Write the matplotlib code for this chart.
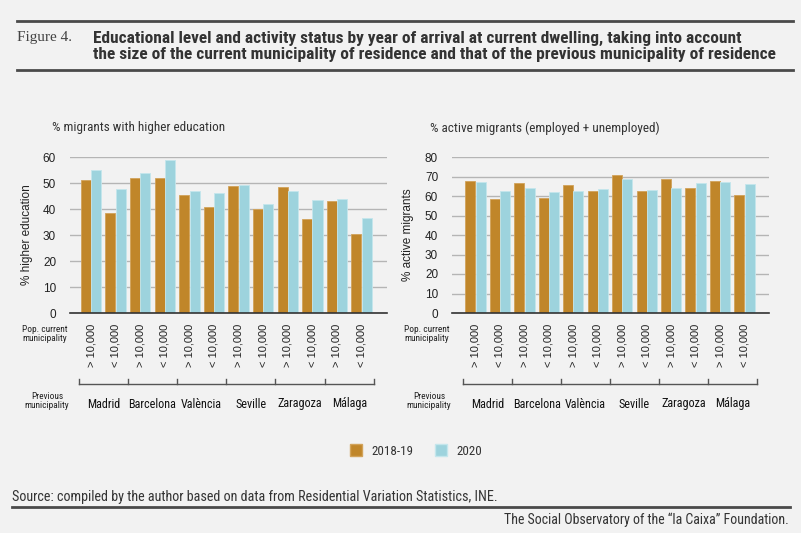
import matplotlib
matplotlib.use("Agg")
import matplotlib.pyplot as plt
from matplotlib import font_manager as fm
from matplotlib.lines import Line2D
from matplotlib.patches import Patch

# data
cities = ["Madrid", "Barcelona", "València", "Seville", "Zaragoza", "Málaga"]
pop_labels = ["> 10,000", "< 10,000"] * 6
edu_2018 = [51.3, 38.5, 51.9, 52.0, 45.5, 40.7, 48.8, 40.1, 48.3, 36.2, 43.2, 30.5]
edu_2020 = [55.0, 47.7, 53.8, 58.8, 46.8, 46.3, 49.3, 41.9, 47.0, 43.3, 43.8, 36.4]
act_2018 = [67.7, 58.4, 66.6, 59.1, 65.4, 62.5, 70.9, 62.4, 68.5, 64.1, 67.7, 60.6]
act_2020 = [67.0, 62.4, 63.9, 62.2, 62.5, 63.4, 68.9, 62.9, 64.2, 66.5, 67.3, 66.3]

C18 = "#c0862a"
C20 = "#9dd3dd"
BG = "#f2f2f2"
DARK = "#333333"

installed = {f.name for f in fm.fontManager.ttflist}


def pick(cands, fallback="DejaVu Sans"):
    for c in cands:
        if c in installed:
            return [c, fallback]
    return [fallback]


NARROW = pick(["Roboto Condensed", "Liberation Sans Narrow", "Archivo Narrow", "PT Sans Narrow",
               "Barlow Semi Condensed", "Arial Narrow", "Open Sans Condensed"])
SANS = pick(["Liberation Sans", "Arimo"])
SERIF = pick(["Liberation Serif", "Tinos"], "DejaVu Serif")

W, H = 801, 533
fig = plt.figure(figsize=(W / 100, H / 100), dpi=100, facecolor=BG)
renderer = fig.canvas.get_renderer()


def fx(x):
    return x / W


def fy(y):
    return 1 - y / H


def fit(t, target_px, vertical=False):
    # scale the font so the text spans the width measured on the reference
    bb = t.get_window_extent(renderer)
    size = bb.height if vertical else bb.width
    t.set_fontsize(t.get_fontsize() * target_px / size)
    return t


def hline(x0, x1, y, lw=2.0, color="#4a4a4a"):
    fig.add_artist(Line2D([fx(x0), fx(x1)], [fy(y), fy(y)], color=color, lw=lw))


# header
hline(17, 793, 21)
hline(17, 793, 70)
fig.text(fx(17), fy(38), "Figure 4.", family=SERIF, fontsize=11, color="#444444", va="center")
t1 = fig.text(fx(93), fy(38), "Educational level and activity status by year of arrival at current dwelling, taking into account",
              family=NARROW, fontsize=10.5, weight="bold", color=DARK, va="center")
t2 = fig.text(fx(93), fy(54), "the size of the current municipality of residence and that of the previous municipality of residence",
              family=NARROW, fontsize=10.5, weight="bold", color=DARK, va="center")
fit(t2, 684)
t1.set_fontsize(t2.get_fontsize())

city_size = None


def panel(left_px, xmin, xmax, v18, v20, ymax, subtitle, sub_w, ylabel, ylab_h, sub_x, ylab_x, pop_x, prev_x):
    global city_size
    ax = fig.add_axes([fx(left_px), fy(313), 317 / W, 156 / H])
    ax.set_facecolor(BG)
    x = list(range(len(v18)))
    w = 0.41
    ax.bar([i - 0.21 for i in x], v18, width=w, color=C18, edgecolor="#d2a35a", lw=0.6, zorder=3)
    ax.bar([i + 0.21 for i in x], v20, width=w, color=C20, edgecolor="#c4e6ec", lw=0.6, zorder=3)
    ax.set_xlim(xmin, xmax)
    ax.set_ylim(0, ymax)
    ax.set_yticks(range(0, ymax + 1, 10))
    ax.yaxis.grid(True, color="#b5b5b5", lw=1.0, zorder=0)
    for s in ["top", "right", "left"]:
        ax.spines[s].set_visible(False)
    ax.spines["bottom"].set_color(DARK)
    ax.spines["bottom"].set_linewidth(1.2)
    ax.spines["bottom"].set_zorder(4)
    ax.tick_params(axis="y", length=0, pad=10, labelsize=8.5, labelcolor="#222222")
    ax.set_xticks(x)
    ax.set_xticklabels(pop_labels, rotation=90, fontsize=8, color="#222222")
    ax.tick_params(axis="x", length=0, pad=8)
    for lab in ax.get_yticklabels() + ax.get_xticklabels():
        lab.set_family(SANS)

    # bracket for previous municipality
    tr = ax.get_xaxis_transform()
    yb = (313 - 384) / 156
    yt = (313 - 379) / 156
    ax.plot([-0.5, 11.5], [yb, yb], color="#555555", lw=1, transform=tr, clip_on=False)
    for k in range(7):
        xb = -0.5 + 2 * k
        ax.plot([xb, xb], [yb, yt], color="#555555", lw=1, transform=tr, clip_on=False)
    labels = []
    for k, c in enumerate(cities):
        labels.append(ax.text(0.5 + 2 * k, (313 - 404) / 156, c, transform=tr, ha="center", va="center",
                              fontsize=9.5, family=NARROW, color="#111111"))
    if city_size is None:
        fit(labels[1], 48)
        city_size = labels[1].get_fontsize()
    for lab in labels:
        lab.set_fontsize(city_size)

    st = fig.text(fx(sub_x), fy(128), subtitle, family=NARROW, fontsize=9, color=DARK, va="center")
    fit(st, sub_w)
    yl = fig.text(fx(ylab_x), fy(235), ylabel, family=SANS, fontsize=8.5, color="#222222",
                  rotation=90, ha="center", va="center")
    fit(yl, ylab_h, vertical=True)
    pc = fig.text(fx(pop_x), fy(334), "Pop. current\nmunicipality", family=NARROW, fontsize=7,
                  color="#222222", ha="center", va="center", linespacing=1.1)
    fit(pc, 46)
    pm = fig.text(fx(prev_x), fy(401), "Previous\nmunicipality", family=NARROW, fontsize=7,
                  color="#222222", ha="center", va="center", linespacing=1.1)
    pm.set_fontsize(pc.get_fontsize())
    return ax


panel(70, -0.854, 12.035, edu_2018, edu_2020, 60, "% migrants with higher education", 174,
      "% higher education", 100, 52, 27, 45, 47)
panel(452, -0.96, 12.0, act_2018, act_2020, 80, "% active migrants (employed + unemployed)", 231,
      "% active migrants", 92, 430, 408, 427, 429)

# legend
probe = fig.text(0, 0, "2018-19", family=NARROW, fontsize=9)
fit(probe, 42)
leg_size = probe.get_fontsize()
probe.remove()
px_per_em = leg_size * 100 / 72
handles = [Patch(facecolor=C18, edgecolor="#d2a35a", label="2018-19"),
           Patch(facecolor=C20, edgecolor="#c4e6ec", label="2020")]
fig.legend(handles=handles, loc="center", bbox_to_anchor=(fx(416), fy(451)), ncol=2,
           frameon=False, prop={"family": NARROW, "size": leg_size}, handlelength=12 / px_per_em,
           handleheight=13 / px_per_em, columnspacing=21 / px_per_em, handletextpad=10 / px_per_em,
           labelcolor=DARK, borderpad=0)

# footer
src = fig.text(fx(12), fy(497), "Source: compiled by the author based on data from Residential Variation Statistics, INE.",
               family=NARROW, fontsize=9, color=DARK, va="center")
fit(src, 488)
hline(12, 790, 507)
ft = fig.text(fx(789), fy(520), "The Social Observatory of the \u201cla Caixa\u201d Foundation.",
              family=NARROW, fontsize=9, color=DARK, va="center", ha="right")
fit(ft, 287)

fig.savefig("out.png", dpi=100, facecolor=BG)
